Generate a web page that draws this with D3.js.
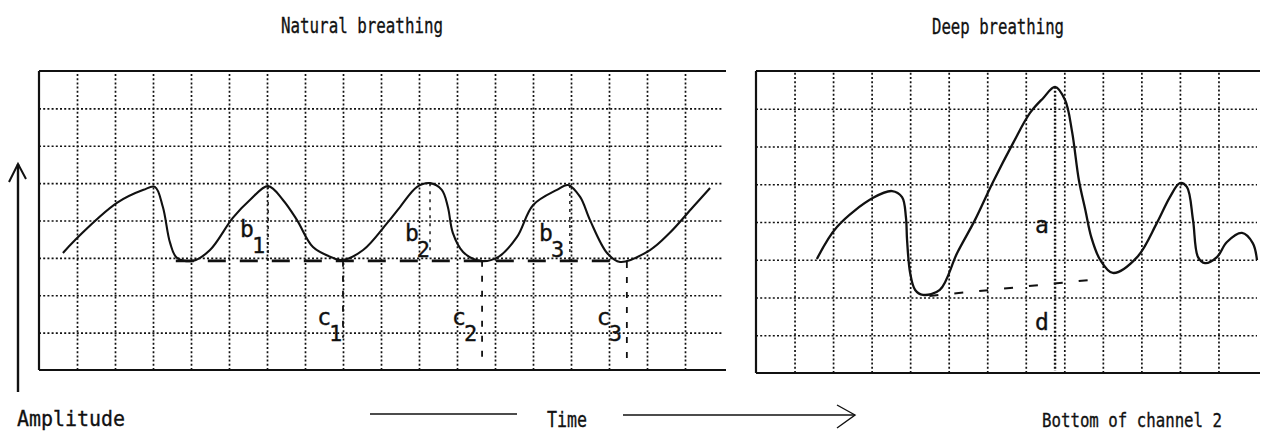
<!DOCTYPE html>
<html>
<head>
<meta charset="utf-8">
<script src="https://cdn.jsdelivr.net/npm/d3@7"></script>
<style>
	body { margin: 0; background: #fff; }
	text { font-family: "DejaVu Sans Mono", "Liberation Mono", monospace; fill: #111; stroke: #111; stroke-width: 0.35; }
</style>
</head>
<body>
<svg id="vis"></svg>
<script>
// ---- data (time in grid divisions, amplitude in grid divisions) ----
var naturalTime = [0.63, 0.95, 2.05, 2.75, 3.05, 3.26, 3.45, 3.63, 4.05, 4.5, 5.1, 5.55, 6.03, 6.42, 6.79, 7.21, 7.74, 7.97, 8.53, 9.16, 9.5, 9.95, 10.29, 10.6, 10.76, 10.89, 11.16, 11.6, 12.08, 12.58, 13.0, 13.63, 13.92, 14.24, 14.5, 14.95, 15.29, 16.08, 16.6, 17.21, 17.66];
var naturalAmp = [3.13, 3.48, 4.47, 4.82, 4.90, 4.36, 3.40, 3.00, 2.92, 3.21, 4.07, 4.55, 4.92, 4.55, 4.01, 3.29, 3.0, 2.94, 3.21, 3.93, 4.36, 4.90, 5.0, 4.82, 4.36, 3.67, 3.16, 2.92, 3.02, 3.56, 4.41, 4.82, 4.95, 4.63, 4.01, 3.13, 2.89, 3.21, 3.67, 4.36, 4.87];

var deepTime = [1.58, 2.10, 3.04, 3.53, 3.79, 3.89, 3.92, 4.0, 4.13, 4.33, 4.77, 5.22, 5.68, 6.15, 6.67, 7.11, 7.45, 7.76, 8.02, 8.2, 8.38, 8.55, 8.7, 8.93, 9.26, 9.89, 10.40, 10.74, 11.0, 11.18, 11.34, 11.47, 11.65, 11.96, 12.22, 12.61, 12.89, 13.0];
var deepAmp = [3.02, 3.87, 4.64, 4.82, 4.66, 4.13, 3.52, 2.65, 2.20, 2.07, 2.20, 3.18, 4.05, 5.06, 6.09, 6.89, 7.28, 7.58, 7.23, 6.4, 5.1, 4.3, 3.6, 3.0, 2.65, 3.07, 3.97, 4.66, 5.03, 4.93, 4.05, 3.07, 2.91, 3.07, 3.47, 3.71, 3.44, 2.99];

// baseline through the troughs (natural) and the slanted reference (deep)
var naturalBaseTime = [3.6, 15.3];
var naturalBaseAmp = [2.92, 2.92];
var deepBaseTime = [4.5, 8.92];
var deepBaseAmp = [2.04, 2.49];

// peak markers b1..b3 and trough markers c1..c3
var bNames = ["1", "2", "3"];
var bTime = [6.03, 10.29, 13.97];
var bTop = [4.92, 5.0, 4.95];
var bBottom = [2.92, 3.1, 2.92];
var bLabelTime = [5.29, 9.63, 13.16];
var bLabelAmp = [3.56, 3.45, 3.45];

var cTime = [8.0, 11.66, 15.47];
var cTop = [2.92, 2.92, 2.89];
var cBottom = [0.86, 0.13, 0.27];
var cLabelTime = [7.32, 10.87, 14.68];
var cLabelAmp = [1.2, 1.2, 1.2];

// deep breathing marker line with a / d labels
var deepMarkTime = 7.76;
var deepMarkTop = 7.58;
var deepMarkBottom = 0.05;
var deepLabels = ["a", "d"];
var deepLabelTime = [7.24, 7.24];
var deepLabelAmp = [3.71, 1.14];

var titles = ["Natural breathing", "Deep breathing"];

// ---- layout ----
var W = 1273, H = 437;
var svg = d3.select("svg#vis").attr("width", W).attr("height", H);
svg.append("rect").attr("width", W).attr("height", H).attr("fill", "#fff");

var panels = [
	{ x: d3.scaleLinear().domain([0, 18]).range([39, 723]), y: d3.scaleLinear().domain([0, 8]).range([370, 71]), cols: 18 },
	{ x: d3.scaleLinear().domain([0, 13]).range([756, 1257]), y: d3.scaleLinear().domain([0, 8]).range([373, 71]), cols: 13 }
];

function drawGrid(p) {
	var g = svg.append("g");
	var x0 = p.x.range()[0], x1 = p.x.range()[1];
	var y0 = p.y.range()[0], y1 = p.y.range()[1];

	// dotted grid through the library axes
	g.append("g")
		.attr("class", "grid")
		.attr("transform", "translate(0," + y0 + ")")
		.call(d3.axisBottom(p.x).tickValues(d3.range(1, p.cols)).tickSize(-(y0 - y1)).tickFormat(""));
	g.append("g")
		.attr("class", "grid")
		.attr("transform", "translate(" + x0 + ",0)")
		.call(d3.axisLeft(p.y).tickValues(d3.range(1, 8)).tickSize(-(x1 - x0)).tickFormat(""));
	g.selectAll(".grid .domain").remove();
	g.selectAll(".grid line")
		.attr("stroke", "#111")
		.attr("stroke-width", 1.7)
		.attr("stroke-dasharray", "2,2.2");

	// solid borders: top, left, bottom
	g.append("line").attr("x1", x0).attr("x2", x1 + 3).attr("y1", y1).attr("y2", y1)
		.attr("stroke", "#111").attr("stroke-width", 2);
	g.append("line").attr("x1", x0).attr("x2", x0).attr("y1", y1).attr("y2", y0)
		.attr("stroke", "#111").attr("stroke-width", 2.2);
	g.append("line").attr("x1", x0).attr("x2", x1 + 3).attr("y1", y0).attr("y2", y0)
		.attr("stroke", "#111").attr("stroke-width", 2);
}
panels.forEach(drawGrid);

function trace(p, times, amps, curve) {
	var pts = times.map(function(t, i) { return [t, amps[i]]; });
	return d3.line()
		.x(function(d) { return p.x(d[0]); })
		.y(function(d) { return p.y(d[1]); })
		.curve(curve || d3.curveLinear)(pts);
}

var L = panels[0], R = panels[1];

// ---- natural breathing ----
svg.append("path")
	.attr("d", trace(L, naturalBaseTime, naturalBaseAmp))
	.attr("fill", "none").attr("stroke", "#111").attr("stroke-width", 2.6)
	.attr("stroke-dasharray", "18,14");

bTime.forEach(function(t, i) {
	svg.append("path")
		.attr("d", trace(L, [t, t], [bTop[i], bBottom[i]]))
		.attr("stroke", "#111").attr("stroke-width", 1.4).attr("stroke-dasharray", "3,5");
	svg.append("path")
		.attr("d", trace(L, [cTime[i], cTime[i]], [cTop[i], cBottom[i]]))
		.attr("stroke", "#111").attr("stroke-width", 1.8).attr("stroke-dasharray", "6,9");
});

svg.append("path")
	.attr("d", trace(L, naturalTime, naturalAmp, d3.curveCatmullRom.alpha(0.5)))
	.attr("fill", "none").attr("stroke", "#111").attr("stroke-width", 2.1);

// letter with a lowered subscript digit
function label(p, txt, sub, t, a) {
	var el = svg.append("text")
		.attr("x", p.x(t)).attr("y", p.y(a))
		.style("font-size", "23px");
	el.append("tspan").text(txt);
	if (sub) {
		el.append("tspan")
			.attr("dx", -2).attr("dy", 16)
			.style("font-size", "22px")
			.text(sub);
	}
}
bNames.forEach(function(n, i) {
	label(L, "b", n, bLabelTime[i], bLabelAmp[i]);
	label(L, "c", n, cLabelTime[i], cLabelAmp[i]);
});

// ---- deep breathing ----
svg.append("path")
	.attr("d", trace(R, deepBaseTime, deepBaseAmp))
	.attr("fill", "none").attr("stroke", "#111").attr("stroke-width", 2)
	.attr("stroke-dasharray", "9,16");

svg.append("path")
	.attr("d", trace(R, [deepMarkTime, deepMarkTime], [deepMarkTop, deepMarkBottom]))
	.attr("stroke", "#111").attr("stroke-width", 2.4).attr("stroke-dasharray", "2,2");

svg.append("path")
	.attr("d", trace(R, deepTime, deepAmp, d3.curveCatmullRom.alpha(0.5)))
	.attr("fill", "none").attr("stroke", "#111").attr("stroke-width", 2.3);

deepLabels.forEach(function(s, i) {
	label(R, s, null, deepLabelTime[i], deepLabelAmp[i]);
});

// ---- titles and axis captions ----
function caption(txt, x, y, len, size) {
	svg.append("text")
		.attr("x", x).attr("y", y)
		.attr("textLength", len).attr("lengthAdjust", "spacingAndGlyphs")
		.style("font-size", (size || 22) + "px")
		.text(txt);
}
caption(titles[0], 281, 33, 162);
caption(titles[1], 932, 34, 132);
caption("Amplitude", 17, 426, 108);
caption("Time", 547, 427, 40);
caption("Bottom of channel 2", 1042, 427, 180, 20);

// amplitude arrow
svg.append("line").attr("x1", 18).attr("x2", 18).attr("y1", 164).attr("y2", 392)
	.attr("stroke", "#111").attr("stroke-width", 2.4);
svg.append("path").attr("d", "M9,182 L18,164 L26,179")
	.attr("fill", "none").attr("stroke", "#111").attr("stroke-width", 2);

// time arrow
svg.append("line").attr("x1", 370).attr("x2", 517).attr("y1", 414).attr("y2", 414)
	.attr("stroke", "#111").attr("stroke-width", 1.6);
svg.append("line").attr("x1", 623).attr("x2", 855).attr("y1", 415).attr("y2", 415)
	.attr("stroke", "#111").attr("stroke-width", 1.6);
svg.append("path").attr("d", "M837,405 L855,415 L837,428")
	.attr("fill", "none").attr("stroke", "#111").attr("stroke-width", 1.4);
</script>
</body>
</html>
